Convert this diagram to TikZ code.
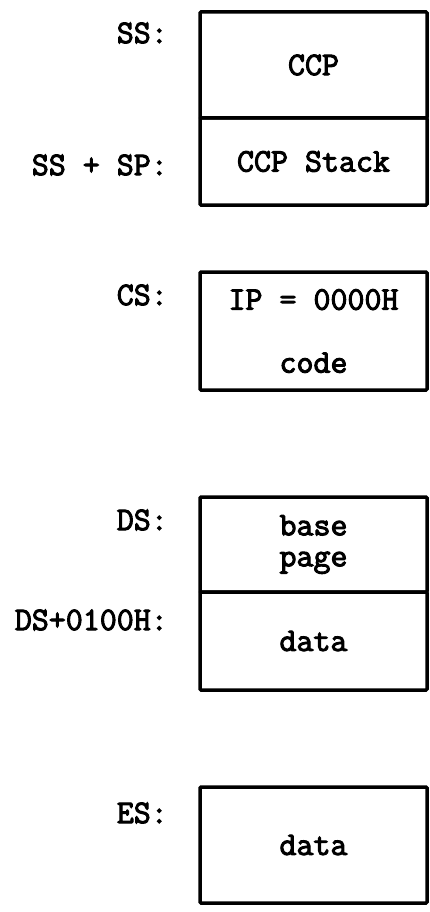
\documentclass[tikz,border=0pt]{standalone}
\usepackage{fontspec}
\setmonofont{Latin Modern Mono}[FakeBold=3]
\tikzset{
  seg/.style={draw,line width=3.5pt,rounded corners=1pt,minimum width=227pt,
    inner sep=0pt,align=center,font=\ttfamily\fontsize{33}{31}\selectfont},
  lbl/.style={anchor=east,inner sep=0pt,font=\ttfamily\fontsize{33}{31}\selectfont}
}
\begin{document}
\begin{tikzpicture}[x=1pt,y=-1pt]
  \useasboundingbox (0,0) rectangle (429,912);

  % segment boxes
  \node[seg,minimum height=106pt] (ccp) at (313.5,65) {CCP};
  \node[seg,minimum height=87pt] (stack) at (313.5,161.5) {CCP Stack};
  \node[seg,minimum height=118pt] (code) at (313.5,331) {IP = 0000H\\[32pt]code};
  \node[seg,minimum height=95pt] (base) at (313.5,544.5) {base\\page};
  \node[seg,minimum height=98pt] (ddata) at (313.5,641) {data};
  \node[seg,minimum height=116pt] (edata) at (313.5,845) {data};

  % register labels
  \foreach \y/\t/\n in {33/SS:/ss,165/SS + SP:/sssp,295/CS:/cs,
    520/DS:/ds,620/DS+0100H:/dsoff,813/ES:/es}
    \node[lbl] (\n) at (168,\y) {\t};

\end{tikzpicture}
\end{document}
